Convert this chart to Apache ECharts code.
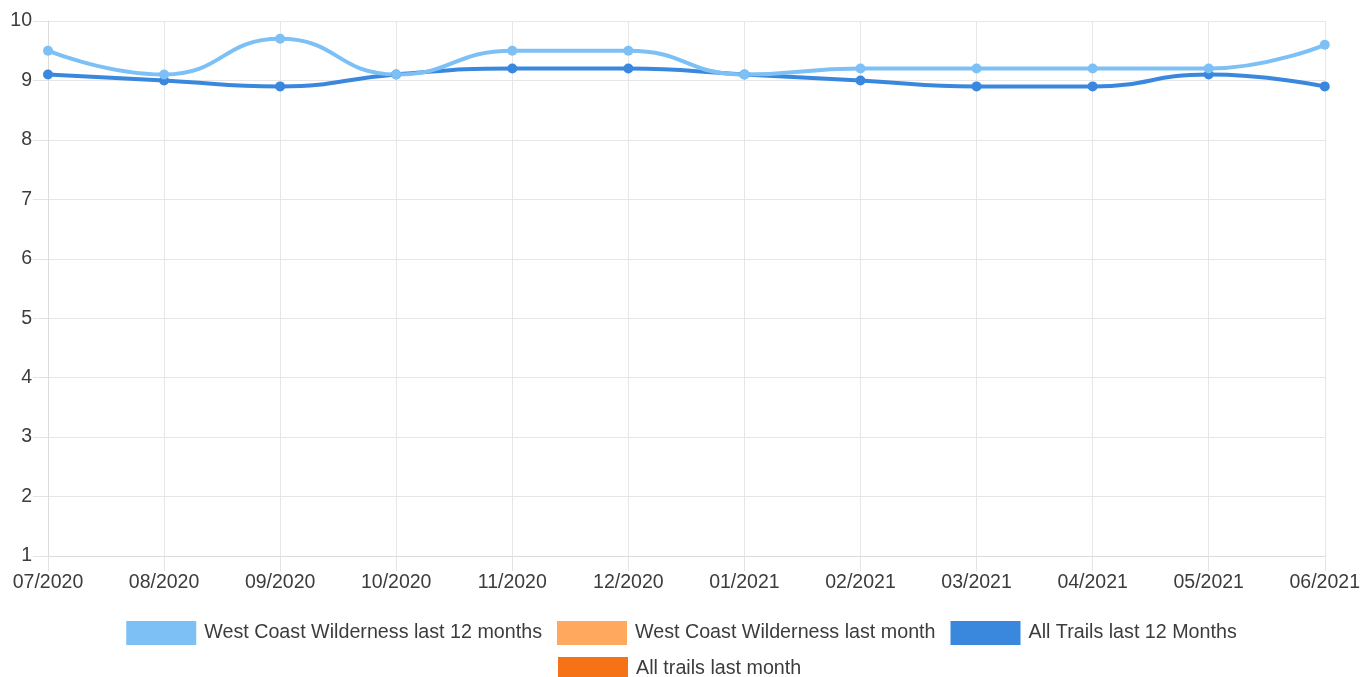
<!DOCTYPE html>
<html>
<head>
<meta charset="utf-8">
<script src="https://cdn.jsdelivr.net/npm/echarts@6/dist/echarts.min.js"></script>
<style>
html, body { margin: 0; padding: 0; background: #fff; }
#box1 { width: 1363px; height: 677px; }
</style>
</head>
<body>
<div id="box1"></div>
<script>
var months = ['07/2020', '08/2020', '09/2020', '10/2020', '11/2020', '12/2020',
    '01/2021', '02/2021', '03/2021', '04/2021', '05/2021', '06/2021'];
var wcwYear = [9.5, 9.1, 9.7, 9.1, 9.5, 9.5, 9.1, 9.2, 9.2, 9.2, 9.2, 9.6];
var wcwMonth = [];
var allYear = [9.1, 9.0, 8.9, 9.1, 9.2, 9.2, 9.1, 9.0, 8.9, 8.9, 9.1, 8.9];
var allMonth = [];
var yTicks = [1, 2, 3, 4, 5, 6, 7, 8, 9, 10];

var names = ['West Coast Wilderness last 12 months', 'West Coast Wilderness last month',
    'All Trails last 12 Months', 'All trails last month'];
var colors = ['#7cc0f6', '#ffa85e', '#3a88dd', '#f57316'];

var chart = echarts.init(document.getElementById('box1'));

var font = '"Liberation Sans", Arial, sans-serif';
var legendText = {
    fontFamily: font,
    fontSize: 19.7,
    color: '#3c3c3c',
    padding: [0, 0, 0, 3]
};

var option = {
    animation: false,
    grid: {
        left: 48,
        right: 38,
        top: 21,
        bottom: 121
    },
    legend: [{
        data: names.slice(0, 3),
        top: 621,
        left: 'center',
        padding: 0,
        icon: 'rect',
        itemWidth: 70,
        itemHeight: 24,
        itemGap: 15,
        textStyle: legendText
    }, {
        data: names.slice(3),
        top: 657,
        left: 558,
        padding: 0,
        icon: 'rect',
        itemWidth: 70,
        itemHeight: 24,
        textStyle: legendText
    }],
    xAxis: {
        type: 'category',
        boundaryGap: false,
        data: months,
        axisLine: { lineStyle: { color: '#dcdcdc' } },
        axisTick: { show: true, length: 15, alignWithLabel: true, lineStyle: { color: '#e3e3e3' } },
        axisLabel: {
            margin: 17,
            fontFamily: font,
            fontSize: 19.5,
            color: '#3c3c3c'
        },
        splitLine: { show: true, lineStyle: { color: '#e6e6e6' } }
    },
    yAxis: {
        type: 'value',
        min: yTicks[0],
        max: yTicks[yTicks.length - 1],
        interval: 1,
        axisLine: { show: true, lineStyle: { color: '#dcdcdc' } },
        axisTick: { show: true, length: 15, lineStyle: { color: '#e3e3e3' } },
        axisLabel: {
            margin: 16,
            fontFamily: font,
            fontSize: 19.5,
            color: '#3c3c3c'
        },
        splitLine: { show: true, lineStyle: { color: '#e6e6e6' } }
    },
    series: [{
        name: names[3],
        type: 'line',
        data: allMonth,
        itemStyle: { color: colors[3] },
        lineStyle: { color: colors[3] }
    }, {
        name: names[1],
        type: 'line',
        data: wcwMonth,
        itemStyle: { color: colors[1] },
        lineStyle: { color: colors[1] }
    }, {
        name: names[2],
        type: 'line',
        data: allYear,
        smooth: 0.5,
        symbol: 'circle',
        symbolSize: 10,
        lineStyle: { width: 4, color: colors[2] },
        itemStyle: { color: colors[2] }
    }, {
        name: names[0],
        type: 'line',
        data: wcwYear,
        smooth: 0.5,
        symbol: 'circle',
        symbolSize: 10,
        lineStyle: { width: 4, color: colors[0] },
        itemStyle: { color: colors[0] }
    }]
};

chart.setOption(option);
</script>
</body>
</html>
